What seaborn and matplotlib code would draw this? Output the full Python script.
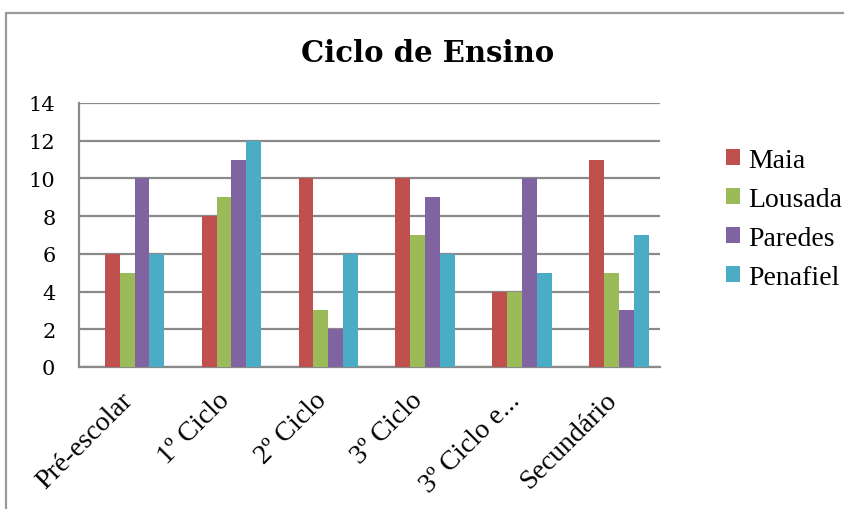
import matplotlib
matplotlib.use("Agg")
import matplotlib.pyplot as plt
import matplotlib.patches as mpatches
import matplotlib.transforms as mtransforms
import seaborn as sns
import pandas as pd

# data
categories = ["Pré-escolar", "1º Ciclo", "2º Ciclo", "3º Ciclo", "3º Ciclo e...", "Secundário"]
maia = [6, 8, 10, 10, 4, 11]
lousada = [5, 9, 3, 7, 4, 5]
paredes = [10, 11, 2, 9, 10, 3]
penafiel = [6, 12, 6, 6, 5, 7]
series_names = ["Maia", "Lousada", "Paredes", "Penafiel"]
colors = ["#C0504D", "#9BBB59", "#8064A2", "#4BACC6"]
y_ticks = [0, 2, 4, 6, 8, 10, 12, 14]

df = pd.DataFrame({"Ciclo": categories, "Maia": maia, "Lousada": lousada,
                   "Paredes": paredes, "Penafiel": penafiel})
long_df = df.melt(id_vars="Ciclo", var_name="Concelho", value_name="Valor")

sns.set_theme(style="white")
plt.rcParams['font.family'] = ['DejaVu Serif']
plt.rcParams['text.color'] = 'black'
plt.rcParams['xtick.color'] = 'black'
plt.rcParams['ytick.color'] = 'black'

fig = plt.figure(figsize=(8.45, 5.1), dpi=100)
ax = fig.add_axes([79 / 845, 1 - 368 / 510, 581 / 845, 264 / 510])

sns.barplot(data=long_df, x="Ciclo", y="Valor", hue="Concelho",
            hue_order=series_names, palette=colors, width=0.614,
            gap=0, linewidth=0, saturation=1, ax=ax, zorder=3)

grid_col = "#8a8a8a"
ax.set_ylim(0, 14)
ax.set_yticks(y_ticks)
ax.set_xlim(-0.573, 5.423)
ax.yaxis.grid(True, color=grid_col, linewidth=1.6, zorder=0)
ax.xaxis.grid(False)
for side in ["top", "right"]:
    ax.spines[side].set_visible(False)
for side in ["left", "bottom"]:
    ax.spines[side].set_color(grid_col)
    ax.spines[side].set_linewidth(1.6)
ax.set_xlabel("")
ax.set_ylabel("")

ax.tick_params(axis="y", length=0, pad=17, labelsize=15)
ax.tick_params(axis="x", length=0, pad=21)
ax.set_xticks(range(len(categories)))
ax.set_xticklabels(categories, rotation=45, ha="right", va="center",
                   rotation_mode="anchor", family="Liberation Serif",
                   fontsize=20)
shift = mtransforms.ScaledTranslation(-6 / 100, 0, fig.dpi_scale_trans)
for lbl in ax.get_xticklabels():
    lbl.set_transform(lbl.get_transform() + shift)

leg = ax.legend(loc="upper left", bbox_to_anchor=(726 / 845, 1 - 149 / 510),
                bbox_transform=fig.transFigure, frameon=False,
                prop={"family": "Liberation Serif", "size": 20},
                handlelength=0.5, handleheight=0.5,
                handletextpad=0.3, labelspacing=0.5, borderpad=0,
                borderaxespad=0)

fig.text(428 / 845, 1 - 53 / 510, "Ciclo de Ensino", ha="center", va="center",
         fontsize=21, fontweight="bold")

# chart outer border
fig.add_artist(mpatches.Rectangle((6 / 845, -0.1), 1.2, (510 - 14) / 510 + 0.1,
                                  transform=fig.transFigure, fill=False,
                                  edgecolor="#9a9a9a", linewidth=1.6))

fig.savefig("out.png", dpi=100)
